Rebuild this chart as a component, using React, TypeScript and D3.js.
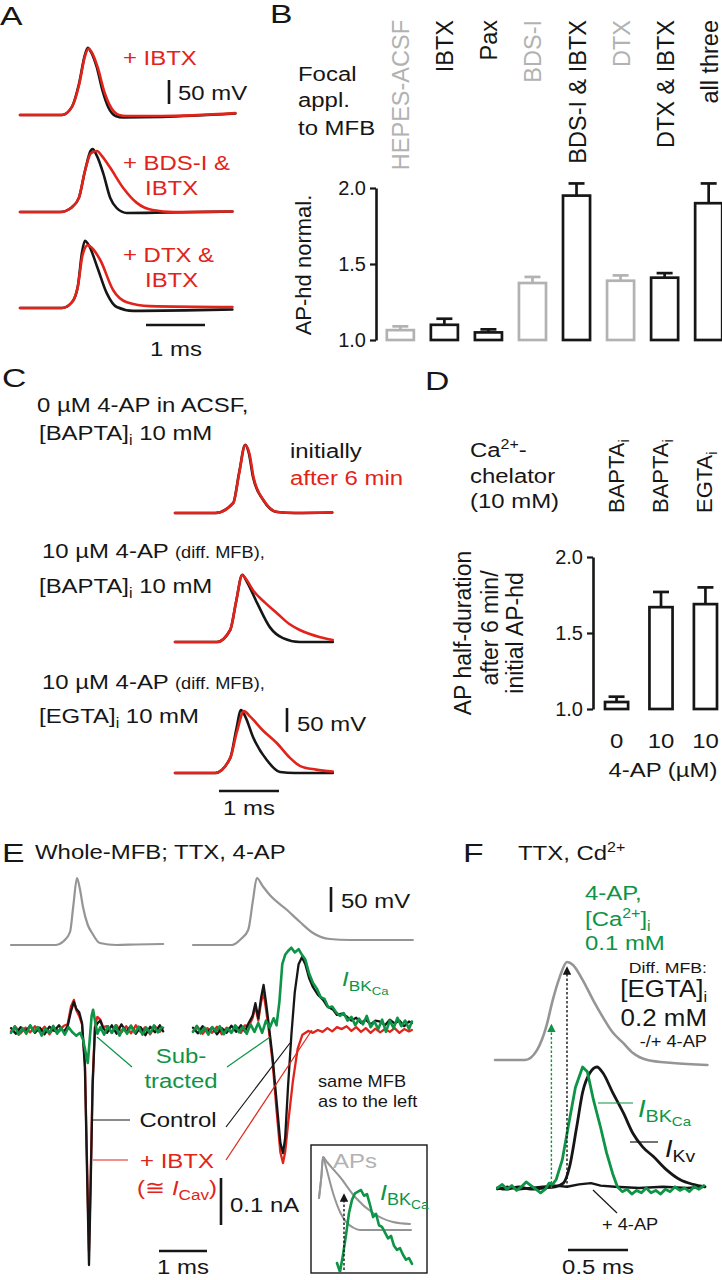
import React, { useEffect, useRef } from 'react';
import * as d3 from 'd3';

const FONT = '"Liberation Sans", Arial, Helvetica, sans-serif';
const INK = '#161616';
const RED = '#e2231a';
const GREEN = '#0d9447';
const GRAY = '#959595';
const LGRAY = '#b2b2b2';

// ---- panel B: focal application, AP half-duration normalised
const bCats = ['HEPES-ACSF', 'IBTX', 'Pax', 'BDS-I', 'BDS-I & IBTX', 'DTX', 'DTX & IBTX', 'all three'];
const bGrayCats = ['HEPES-ACSF', 'BDS-I', 'DTX'];
const bMeans = [1.065, 1.10, 1.05, 1.375, 1.95, 1.39, 1.41, 1.90];
const bErrs = [0.025, 0.04, 0.02, 0.04, 0.08, 0.035, 0.03, 0.13];
const bTicks = [1, 1.5, 2];

// ---- panel D: chelators
const dCats = ['BAPTA 0', 'BAPTA 10', 'EGTA 10'];
const dChelators = ['BAPTA', 'BAPTA', 'EGTA'];
const dConc = ['0', '10', '10'];
const dMeans = [1.046, 1.67, 1.69];
const dErrs = [0.035, 0.10, 0.11];
const dTicks = [1, 1.5, 2];

// ---- AP traces [ms, mV]
const apA1Ctrl = [[0, 0], [0.71, 0], [0.88, 17], [1.0, 65], [1.1, 125], [1.15, 140], [1.2, 132], [1.3, 100], [1.4, 50], [1.5, 15], [1.62, -2], [1.75, -5], [2.4, -4], [3.65, 3]];
const apA1Ibtx = [[0, 0], [0.71, 0], [0.88, 17], [1.0, 62], [1.1, 122], [1.16, 138], [1.22, 130], [1.32, 98], [1.43, 48], [1.55, 14], [1.68, 0], [1.8, -2], [2.4, -2], [3.65, 4]];
const apA2Ctrl = [[0, 0], [0.68, 0], [0.88, 10], [1.0, 30], [1.1, 85], [1.2, 128], [1.23, 131], [1.3, 118], [1.41, 81], [1.53, 29], [1.64, 8], [1.81, -2], [2.5, -1], [3.6, 1]];
const apA2Bds = [[0, 0], [0.68, 0], [0.88, 10], [1.0, 30], [1.1, 85], [1.2, 122], [1.3, 127], [1.4, 115], [1.53, 92], [1.75, 50], [1.98, 19], [2.25, 4], [2.6, 0], [3.6, 1]];
const apA3Ctrl = [[0, 0], [0.71, 0], [0.88, 12], [0.98, 45], [1.05, 115], [1.1, 140], [1.17, 130], [1.31, 85], [1.47, 31], [1.64, 2], [1.92, -6], [2.8, -5], [3.6, -3]];
const apA3Dtx = [[0, 0], [0.71, 0], [0.88, 12], [0.98, 45], [1.06, 110], [1.15, 131], [1.22, 125], [1.36, 100], [1.58, 37], [1.81, 12], [2.2, 4], [3.6, 2]];

const apC1Init = [[0, 0], [0.67, 0], [0.97, 21], [1.07, 85], [1.17, 142], [1.23, 125], [1.3, 75], [1.47, 27], [1.7, 2], [2.0, 0], [2.62, 1]];
const apC1After = [[0, 0], [0.67, 0], [0.97, 20], [1.07, 83], [1.17, 141], [1.24, 124], [1.31, 74], [1.48, 26], [1.71, 2], [2.0, 0], [2.62, 1]];
const apC2Init = [[0, 0], [0.7, 0], [0.92, 25], [1.02, 85], [1.12, 140], [1.2, 125], [1.37, 81], [1.58, 31], [1.8, 8], [2.08, 0], [2.63, 0]];
const apC2After = [[0, 0], [0.7, 0], [0.92, 25], [1.02, 85], [1.12, 139], [1.2, 128], [1.3, 108], [1.5, 82], [1.7, 60], [1.9, 38], [2.08, 25], [2.42, 10], [2.63, 4]];
const apC3Init = [[0, 0], [0.67, 0], [0.92, 31], [1.02, 90], [1.1, 131], [1.17, 118], [1.3, 75], [1.53, 27], [1.75, 2], [2.0, 0], [2.63, 0]];
const apC3After = [[0, 0], [0.67, 0], [0.92, 31], [1.03, 85], [1.15, 129], [1.25, 118], [1.47, 88], [1.7, 62], [1.92, 31], [2.08, 15], [2.35, 7], [2.63, 3]];

// ---- panel E
const apELeft = [[0, 0], [0.92, 0], [1.1, 8], [1.23, 26], [1.3, 80], [1.375, 134], [1.44, 110], [1.5, 76], [1.6, 40], [1.69, 24], [1.85, 4], [2.2, 0], [2.6, 1], [3.17, 2]];
const apERight = [[0, 0], [0.81, 0], [1.0, 12], [1.15, 30], [1.25, 90], [1.33, 134], [1.45, 118], [1.6, 100], [1.96, 70], [2.23, 46], [2.5, 24], [2.85, 12], [3.27, 10], [4.58, 10]];

// currents [ms, pA]
const iELeftCtrl = [[0, 4], [0.1, -8], [0.2, 6], [0.3, -3], [0.4, 9], [0.5, -6], [0.6, 5], [0.7, -9], [0.8, 7], [0.9, -2], [1.0, 10], [1.1, -4], [1.18, 8], [1.25, 40], [1.31, 60], [1.36, 45], [1.42, 38], [1.48, 15], [1.54, -80], [1.59, -330], [1.625, -500], [1.66, -330], [1.7, -120], [1.75, 5], [1.8, 14], [1.86, 20], [1.92, 4], [2.0, -6], [2.1, 10], [2.2, -8], [2.3, 12], [2.4, -4], [2.5, 9], [2.6, -8], [2.7, 6], [2.8, -11], [2.9, 7], [3.0, -5], [3.1, 10], [3.17, -3]];
const iELeftIbtx = [[0, -3], [0.1, 6], [0.2, -7], [0.3, 5], [0.4, -5], [0.5, 8], [0.6, -4], [0.7, 7], [0.8, -9], [0.9, 5], [1.0, -3], [1.1, 9], [1.18, 12], [1.25, 50], [1.31, 64], [1.36, 42], [1.42, 30], [1.48, 12], [1.54, -70], [1.59, -310], [1.625, -470], [1.66, -310], [1.7, -110], [1.75, 8], [1.8, 28], [1.86, 22], [1.92, 6], [2.0, 8], [2.1, -6], [2.2, 10], [2.3, -5], [2.4, 8], [2.5, -7], [2.6, 10], [2.7, -4], [2.8, 6], [2.9, -9], [3.0, 8], [3.1, -4], [3.17, 5]];
const iELeftSub = [[0, -6], [0.08, 8], [0.16, -10], [0.24, 4], [0.32, -8], [0.4, 10], [0.48, -4], [0.56, 6], [0.64, -12], [0.72, 3], [0.8, -6], [0.88, 9], [0.96, -8], [1.04, 5], [1.12, -10], [1.2, 6], [1.28, -5], [1.36, -12], [1.44, -6], [1.5, -20], [1.56, -50], [1.6, -70], [1.64, -20], [1.68, 30], [1.71, 43], [1.75, 20], [1.8, -8], [1.86, 6], [1.94, -10], [2.02, 8], [2.1, -6], [2.18, 10], [2.26, -12], [2.34, 4], [2.42, -8], [2.5, 9], [2.58, -6], [2.66, 7], [2.74, -10], [2.82, 5], [2.9, -7], [2.98, 10], [3.06, -5], [3.14, 6]];
const iERightCtrl = [[0, 5], [0.1, -7], [0.2, 8], [0.3, -5], [0.4, 6], [0.5, -9], [0.6, 4], [0.7, -6], [0.8, 9], [0.9, -4], [1.0, 10], [1.08, -3], [1.16, 15], [1.24, 30], [1.3, 57], [1.36, 25], [1.42, 70], [1.47, 96], [1.52, 60], [1.58, 10], [1.66, -60], [1.74, -150], [1.82, -240], [1.875, -262], [1.92, -230], [1.98, -120], [2.05, -10], [2.12, 80], [2.2, 140], [2.27, 155], [2.34, 140], [2.42, 110], [2.5, 91], [2.6, 75], [2.71, 64], [2.8, 50], [2.92, 43], [3.0, 32], [3.1, 35], [3.21, 28], [3.3, 20], [3.4, 26], [3.5, 15], [3.6, 22], [3.7, 12], [3.8, 20], [3.9, 18], [4.0, 10], [4.1, 22], [4.2, 14], [4.3, 20], [4.4, 8], [4.5, 18], [4.56, 15]];
const iERightIbtx = [[0, -3], [0.1, 6], [0.2, -8], [0.3, 4], [0.4, -6], [0.5, 7], [0.6, -9], [0.7, 5], [0.8, -4], [0.9, 8], [1.0, -6], [1.08, 10], [1.16, 8], [1.24, 25], [1.3, 50], [1.36, 20], [1.42, 60], [1.47, 80], [1.52, 45], [1.58, 0], [1.66, -70], [1.74, -170], [1.82, -260], [1.875, -283], [1.92, -260], [1.98, -200], [2.08, -110], [2.18, -40], [2.28, -10], [2.4, -2], [2.5, -6], [2.6, 0], [2.7, -4], [2.8, 4], [2.9, -3], [3.0, 6], [3.1, 2], [3.2, 8], [3.3, -2], [3.4, 6], [3.5, -4], [3.6, 4], [3.7, -6], [3.8, 3], [3.9, -5], [4.0, 2], [4.1, -4], [4.2, 4], [4.3, -6], [4.4, 2], [4.5, -3], [4.56, 0]];
const iERightSub = [[0, -4], [0.08, 9], [0.16, -7], [0.24, 5], [0.32, -10], [0.4, 6], [0.48, -3], [0.56, 8], [0.64, -9], [0.72, 4], [0.8, -6], [0.88, 10], [0.96, -5], [1.04, 7], [1.12, -8], [1.2, 12], [1.28, -4], [1.36, 15], [1.44, -6], [1.52, 20], [1.6, 5], [1.68, 25], [1.74, 10], [1.8, 60], [1.86, 140], [1.92, 160], [1.98, 168], [2.05, 175], [2.12, 165], [2.2, 172], [2.27, 160], [2.34, 150], [2.42, 120], [2.5, 100], [2.58, 88], [2.66, 70], [2.74, 66], [2.82, 48], [2.9, 50], [2.98, 38], [3.06, 30], [3.14, 36], [3.22, 20], [3.3, 28], [3.38, 10], [3.46, 24], [3.54, 12], [3.62, 30], [3.7, 6], [3.78, 18], [3.86, 2], [3.94, 22], [4.02, -4], [4.1, 20], [4.18, 4], [4.26, 26], [4.34, 8], [4.42, 20], [4.5, 2], [4.56, 18]];

// inset
const apInFast = [[0.02, 64], [0.07, 110], [0.1, 146], [0.16, 126], [0.3, 74], [0.45, 34], [0.58, 14], [0.7, 5], [0.84, 0], [1.86, 0]];
const apInSlow = [[0.02, 64], [0.07, 110], [0.1, 146], [0.18, 136], [0.3, 122], [0.44, 106], [0.74, 66], [1.1, 34], [1.5, 16], [1.84, 12]];
const iInBk = [[0.38, 11], [0.44, 0], [0.5, 21], [0.56, 45], [0.62, 72], [0.68, 88], [0.74, 96], [0.8, 98], [0.86, 100], [0.92, 93], [0.98, 95], [1.04, 82], [1.1, 67], [1.16, 71], [1.22, 57], [1.28, 55], [1.34, 48], [1.4, 41], [1.46, 44], [1.52, 32], [1.58, 27], [1.64, 29], [1.7, 21], [1.76, 15], [1.82, 17], [1.88, 10]];
const inArrow = { t: 0.52, from: 0, to: 74 };

// ---- panel F (normalised units)
const apF = [[0, 1], [0.25, 1], [0.35, 11], [0.43, 36], [0.48, 61], [0.54, 85], [0.6, 100], [0.65, 97], [0.73, 82], [0.82, 61], [0.9, 44], [0.98, 29], [1.07, 18], [1.15, 8], [1.27, 1], [1.48, -2], [1.77, -4]];
const iFBk = [[0.02, 0], [0.06, 3], [0.1, -1], [0.14, 2], [0.18, -2], [0.22, 1], [0.26, 5], [0.3, 2], [0.34, -1], [0.38, -4], [0.42, -1], [0.45, 4], [0.48, 3], [0.51, 7], [0.56, 23], [0.62, 56], [0.67, 83], [0.73, 100], [0.77, 96], [0.82, 73], [0.88, 50], [0.93, 29], [0.98, 12], [1.02, 1], [1.06, -3], [1.1, -1], [1.14, -5], [1.18, -2], [1.22, -4], [1.26, 0], [1.3, -4], [1.34, -2], [1.38, -5], [1.42, -1], [1.46, -3], [1.5, 1], [1.54, -2], [1.58, 0], [1.62, -3], [1.66, 1], [1.7, -1], [1.74, 2]];
const iFKv = [[0.02, 0], [0.1, -1], [0.2, 1], [0.3, -1], [0.4, 0], [0.5, 1], [0.57, 4], [0.62, 17], [0.68, 50], [0.73, 79], [0.79, 95], [0.85, 100], [0.9, 95], [0.98, 79], [1.07, 62], [1.15, 45], [1.23, 34], [1.32, 26], [1.43, 15], [1.54, 7], [1.65, 3], [1.75, 1]];
const iF4ap = [[0.02, -1], [0.1, 1], [0.2, -1], [0.3, 0], [0.4, 1], [0.5, 2], [0.6, 1], [0.7, 3], [0.8, 4], [0.88, 2], [1.0, 1], [1.2, 0], [1.4, 1], [1.6, 0], [1.75, 1]];
const fArrows = [{ t: 0.47, to: 39, color: GREEN }, { t: 0.6, to: 97, color: INK }];

function traceScales(x0: number, msPx: number, base: number, unitPx: number, tMax = 5) {
  return {
    x: d3.scaleLinear().domain([0, tMax]).range([x0, x0 + msPx * tMax]),
    y: d3.scaleLinear().domain([0, 100]).range([base, base - 100 * unitPx]),
  };
}

const scA = [traceScales(20, 59, 115, 0.48), traceScales(20, 59, 212, 0.48), traceScales(20, 59, 308, 0.48)];
const scC = [traceScales(175, 60, 513, 0.48), traceScales(175, 60, 642, 0.48), traceScales(175, 60, 773, 0.48)];
const scEvL = traceScales(11, 48, 945, 0.5);
const scEvR = traceScales(193, 48, 945, 0.5);
const scEiL = traceScales(11, 48, 1030, 0.47);
const scEiR = traceScales(193, 48, 1030, 0.47);
const scInV = traceScales(318, 50, 1230, 0.5);
const scInI = traceScales(318, 50, 1272, 0.82);
const scFv = traceScales(495, 120, 1061, 0.99);
const scFi = traceScales(495, 120, 1188, 1.21);

const yB = d3.scaleLinear().domain([1, 2]).range([340, 188]);
const xB = d3.scaleBand().domain(bCats).range([378, 731]).paddingInner(0.386).paddingOuter(0.2);
const yD = d3.scaleLinear().domain([1, 2]).range([709, 557]);
const xD = d3.scaleBand().domain(dCats).range([593, 729]).paddingInner(0.48).paddingOuter(0.27);

function Trace({ data, sc, color, w = 2.6, smooth = true }: any) {
  const line = d3.line()
    .x((d: any) => sc.x(d[0]))
    .y((d: any) => sc.y(d[1]))
    .curve(smooth ? d3.curveMonotoneX : d3.curveLinear);
  return <path d={line(data) || ''} fill="none" stroke={color} strokeWidth={w} strokeLinejoin="round" strokeLinecap="round" />;
}

function T({ x, y, s = 21, sx = 1.14, fill = INK, anchor = 'start', rot = false, italic = false, children }: any) {
  const transform = rot ? `translate(${x},${y}) rotate(-90)` : `translate(${x},${y}) scale(${sx},1)`;
  return (
    <text transform={transform} fontSize={s} fill={fill} textAnchor={anchor} fontFamily={FONT} fontStyle={italic ? 'italic' : 'normal'}>
      {children}
    </text>
  );
}

function Ibk({ x, y, s = 21 }: any) {
  return (
    <T x={x} y={y} s={s} fill={GREEN}>
      <tspan fontStyle="italic">I</tspan>
      <tspan dy={5} fontSize={s * 0.72}>BK</tspan>
      <tspan dy={4} fontSize={s * 0.55}>Ca</tspan>
    </T>
  );
}

function Bars({ cats, means, errs, x, y, grayCats = [] }: any) {
  const bw = x.bandwidth();
  return (
    <g>
      {cats.map((c: string, i: number) => {
        const col = grayCats.includes(c) ? LGRAY : INK;
        const cx = x(c) + bw / 2;
        return (
          <g key={c} stroke={col} strokeWidth={2.7} fill="#fff">
            <line x1={cx} x2={cx} y1={y(means[i])} y2={y(means[i] + errs[i])} />
            <line x1={cx - 8} x2={cx + 8} y1={y(means[i] + errs[i])} y2={y(means[i] + errs[i])} />
            <rect x={x(c)} y={y(means[i])} width={bw} height={y(1) - y(means[i])} />
          </g>
        );
      })}
    </g>
  );
}

function Leader({ pts, color, w = 1.2 }: any) {
  return <path d={d3.line()(pts) || ''} fill="none" stroke={color} strokeWidth={w} />;
}

export default function App() {
  const axB = useRef<SVGGElement>(null);
  const axD = useRef<SVGGElement>(null);

  useEffect(() => {
    const style = (g: any) => {
      g.select('.domain').attr('stroke', INK).attr('stroke-width', 2.6);
      g.selectAll('.tick line').attr('stroke', INK).attr('stroke-width', 2.2);
      g.selectAll('.tick text').attr('fill', INK).attr('font-size', 20).attr('font-family', FONT);
    };
    const gb = d3.select(axB.current);
    gb.call(d3.axisLeft(yB).tickValues(bTicks).tickFormat(d3.format('.1f')).tickSize(6).tickSizeOuter(0).tickPadding(4) as any);
    style(gb);
    const gd = d3.select(axD.current);
    gd.call(d3.axisLeft(yD).tickValues(dTicks).tickFormat(d3.format('.1f')).tickSize(6).tickSizeOuter(0).tickPadding(4) as any);
    style(gd);
  }, []);

  const dash = '2.5,2';

  return (
    <svg width={722} height={1280} style={{ position: 'absolute', left: 0, top: 0, background: '#fff' }} fontFamily={FONT}>
      <defs>
        <marker id="arrK" viewBox="0 0 10 10" refX="8" refY="5" markerWidth="6" markerHeight="6" orient="auto">
          <path d="M0,0L10,5L0,10z" fill={INK} />
        </marker>
        <marker id="arrG" viewBox="0 0 10 10" refX="8" refY="5" markerWidth="6" markerHeight="6" orient="auto">
          <path d="M0,0L10,5L0,10z" fill={GREEN} />
        </marker>
        <clipPath id="inset"><rect x={312} y={1146} width={114} height={126} /></clipPath>
      </defs>

      {/* ---------------- A ---------------- */}
      <T x={0} y={25} s={25} sx={1.35}>A</T>
      <Trace data={apA1Ctrl} sc={scA[0]} color={INK} />
      <Trace data={apA1Ibtx} sc={scA[0]} color={RED} />
      <Trace data={apA2Ctrl} sc={scA[1]} color={INK} />
      <Trace data={apA2Bds} sc={scA[1]} color={RED} />
      <Trace data={apA3Ctrl} sc={scA[2]} color={INK} />
      <Trace data={apA3Dtx} sc={scA[2]} color={RED} />
      <T x={123} y={65} fill={RED}>+ IBTX</T>
      <T x={123} y={170} fill={RED}>+ BDS-I &amp;</T>
      <T x={145} y={195} fill={RED}>IBTX</T>
      <T x={123} y={262} fill={RED}>+ DTX &amp;</T>
      <T x={145} y={287} fill={RED}>IBTX</T>
      <line x1={169} x2={169} y1={80} y2={80 + scA[0].y(0) - scA[0].y(50)} stroke={INK} strokeWidth={2.6} />
      <T x={178} y={100}>50 mV</T>
      <line x1={146} x2={146 + scA[0].x(1) - scA[0].x(0)} y1={325} y2={325} stroke={INK} strokeWidth={2.6} />
      <T x={176} y={356} anchor="middle">1 ms</T>

      {/* ---------------- B ---------------- */}
      <T x={270} y={23} s={25} sx={1.35}>B</T>
      <T x={298} y={81}>Focal</T>
      <T x={298} y={107}>appl.</T>
      <T x={298} y={135}>to MFB</T>
      {bCats.map((c) => (
        <T key={c} rot x={xB(c)! + xB.bandwidth() / 2 + 9} y={20} s={23.5} anchor="end" fill={bGrayCats.includes(c) ? LGRAY : INK}>{c}</T>
      ))}
      <T rot x={311} y={265} s={22} anchor="middle">AP-hd normal.</T>
      <g ref={axB} transform="translate(376,0)" />
      <Bars cats={bCats} means={bMeans} errs={bErrs} x={xB} y={yB} grayCats={bGrayCats} />

      {/* ---------------- C ---------------- */}
      <T x={2} y={387} s={25} sx={1.35}>C</T>
      <T x={37} y={412}>0 µM 4-AP in ACSF,</T>
      <T x={39} y={440}>[BAPTA]<tspan dy={5} fontSize={14}>i</tspan><tspan dy={-5}> 10 mM</tspan></T>
      <T x={290} y={458}>initially</T>
      <T x={290} y={485} fill={RED}>after 6 min</T>
      <T x={42} y={558}>10 µM 4-AP <tspan fontSize={16}>(diff. MFB),</tspan></T>
      <T x={39} y={593}>[BAPTA]<tspan dy={5} fontSize={14}>i</tspan><tspan dy={-5}> 10 mM</tspan></T>
      <T x={42} y={689}>10 µM 4-AP <tspan fontSize={16}>(diff. MFB),</tspan></T>
      <T x={39} y={723}>[EGTA]<tspan dy={5} fontSize={14}>i</tspan><tspan dy={-5}> 10 mM</tspan></T>
      <Trace data={apC1Init} sc={scC[0]} color={INK} />
      <Trace data={apC1After} sc={scC[0]} color={RED} />
      <Trace data={apC2Init} sc={scC[1]} color={INK} />
      <Trace data={apC2After} sc={scC[1]} color={RED} />
      <Trace data={apC3Init} sc={scC[2]} color={INK} />
      <Trace data={apC3After} sc={scC[2]} color={RED} />
      <line x1={287} x2={287} y1={708} y2={708 + scC[2].y(0) - scC[2].y(50)} stroke={INK} strokeWidth={2.6} />
      <T x={297} y={731}>50 mV</T>
      <line x1={219} x2={219 + scC[2].x(1) - scC[2].x(0)} y1={791} y2={791} stroke={INK} strokeWidth={2.6} />
      <T x={249} y={815} anchor="middle">1 ms</T>

      {/* ---------------- D ---------------- */}
      <T x={425} y={390} s={25} sx={1.35}>D</T>
      <T x={470} y={457}>Ca<tspan dy={-8} fontSize={14}>2+</tspan><tspan dy={8}>-</tspan></T>
      <T x={470} y={483}>chelator</T>
      <T x={470} y={508}>(10 mM)</T>
      {dCats.map((c, i) => (
        <T key={c} rot x={xD(c)! + xD.bandwidth() / 2 + 7} y={513} s={22}>
          {dChelators[i]}<tspan dy={5} fontSize={14}>i</tspan>
        </T>
      ))}
      <T rot x={471} y={633} s={23} anchor="middle">AP half-duration</T>
      <T rot x={498} y={628} s={23} anchor="middle">after 6 min/</T>
      <T rot x={523} y={633} s={23} anchor="middle">initial AP-hd</T>
      <g ref={axD} transform="translate(593,0)" />
      <Bars cats={dCats} means={dMeans} errs={dErrs} x={xD} y={yD} />
      {dCats.map((c, i) => (
        <T key={c} x={xD(c)! + xD.bandwidth() / 2} y={748} anchor="middle">{dConc[i]}</T>
      ))}
      <T x={663} y={777} anchor="middle">4-AP (µM)</T>

      {/* ---------------- E ---------------- */}
      <T x={2} y={862} s={25} sx={1.35}>E</T>
      <T x={35} y={859}>Whole-MFB; TTX, 4-AP</T>
      <Trace data={apELeft} sc={scEvL} color={GRAY} w={2.2} />
      <Trace data={apERight} sc={scEvR} color={GRAY} w={2.2} />
      <line x1={331} x2={331} y1={887} y2={887 + scEvR.y(0) - scEvR.y(50)} stroke={INK} strokeWidth={2.6} />
      <T x={341} y={908}>50 mV</T>

      <Trace data={iELeftIbtx} sc={scEiL} color={RED} w={2.3} smooth={false} />
      <Trace data={iELeftCtrl} sc={scEiL} color={INK} w={2.3} smooth={false} />
      <Trace data={iELeftSub} sc={scEiL} color={GREEN} w={2.6} smooth={false} />
      <Trace data={iERightIbtx} sc={scEiR} color={RED} w={2.3} smooth={false} />
      <Trace data={iERightCtrl} sc={scEiR} color={INK} w={2.3} smooth={false} />
      <Trace data={iERightSub} sc={scEiR} color={GREEN} w={2.6} smooth={false} />

      <Ibk x={342} y={986} s={21} />
      <T x={181} y={1063} anchor="middle" fill={GREEN}>Sub-</T>
      <T x={181} y={1088} anchor="middle" fill={GREEN}>tracted</T>
      <T x={178} y={1127} anchor="middle">Control</T>
      <T x={177} y={1168} anchor="middle" fill={RED}>+ IBTX</T>
      <T x={177} y={1195} anchor="middle" fill={RED}>(≅ <tspan fontStyle="italic">I</tspan><tspan dy={5} fontSize={15}>Cav</tspan><tspan dy={-5}>)</tspan></T>
      <Leader pts={[[97, 1037], [132, 1067]]} color={GREEN} />
      <Leader pts={[[227, 1067], [270, 1037]]} color={GREEN} />
      <Leader pts={[[93, 1120], [130, 1120]]} color={INK} />
      <Leader pts={[[226, 1127], [290, 1043]]} color={INK} />
      <Leader pts={[[93, 1160], [128, 1160]]} color={RED} />
      <Leader pts={[[226, 1160], [312, 1030]]} color={RED} />
      <T x={318} y={1087} s={16}>same MFB</T>
      <T x={318} y={1107} s={16}>as to the left</T>
      <line x1={221} x2={221} y1={1178} y2={1178 + scEiL.y(0) - scEiL.y(100)} stroke={INK} strokeWidth={2.6} />
      <T x={230} y={1212}>0.1 nA</T>
      <line x1={159} x2={159 + scEiL.x(1) - scEiL.x(0)} y1={1251} y2={1251} stroke={INK} strokeWidth={2.6} />
      <T x={183} y={1274} anchor="middle">1 ms</T>

      {/* inset */}
      <rect x={311} y={1145} width={116} height={128} fill="#fff" stroke={INK} strokeWidth={1.4} />
      <g clipPath="url(#inset)">
        <Trace data={apInFast} sc={scInV} color={GRAY} w={2} />
        <Trace data={apInSlow} sc={scInV} color={GRAY} w={2} />
        <Trace data={iInBk} sc={scInI} color={GREEN} w={2.6} smooth={false} />
        <line x1={scInV.x(inArrow.t)} x2={scInV.x(inArrow.t)} y1={scInI.y(inArrow.from) - 2} y2={scInV.y(inArrow.to) + 2}
          stroke={INK} strokeWidth={1.4} strokeDasharray={dash} markerEnd="url(#arrK)" />
      </g>
      <T x={333} y={1168} fill={LGRAY}>APs</T>
      <Ibk x={380} y={1200} s={22} />

      {/* ---------------- F ---------------- */}
      <T x={463} y={862} s={25} sx={1.35}>F</T>
      <T x={518} y={860}>TTX, Cd<tspan dy={-8} fontSize={14}>2+</tspan></T>
      <T x={585} y={900} fill={GREEN}>4-AP,</T>
      <T x={585} y={926} fill={GREEN}>[Ca<tspan dy={-8} fontSize={14}>2+</tspan><tspan dy={8}>]</tspan><tspan dy={5} fontSize={14}>i</tspan></T>
      <T x={585} y={950} fill={GREEN}>0.1 mM</T>
      <T x={707} y={973} s={15.5} anchor="end">Diff. MFB:</T>
      <T x={707} y={997} s={24} sx={1.08} anchor="end">[EGTA]<tspan dy={5} fontSize={15}>i</tspan></T>
      <T x={707} y={1026} s={24} sx={1.08} anchor="end">0.2 mM</T>
      <T x={707} y={1047} s={16} anchor="end">-/+ 4-AP</T>

      <Trace data={apF} sc={scFv} color={GRAY} w={2.6} />
      <Trace data={iF4ap} sc={scFi} color={INK} w={2.4} smooth={false} />
      <Trace data={iFKv} sc={scFi} color={INK} w={2.8} />
      <Trace data={iFBk} sc={scFi} color={GREEN} w={2.8} smooth={false} />
      {fArrows.map((a, i) => (
        <line key={i} x1={scFv.x(a.t)} x2={scFv.x(a.t)} y1={scFi.y(0)} y2={scFv.y(a.to) + 3}
          stroke={a.color} strokeWidth={1.4} strokeDasharray={dash} markerEnd={a.color === GREEN ? 'url(#arrG)' : 'url(#arrK)'} />
      ))}
      <Leader pts={[[598, 1103], [633, 1103]]} color={GREEN} />
      <Ibk x={638} y={1117} s={24} />
      <Leader pts={[[630, 1142], [658, 1142]]} color={INK} />
      <T x={665} y={1157} s={24}><tspan fontStyle="italic">I</tspan><tspan dy={5} fontSize={17}>Kv</tspan></T>
      <Leader pts={[[593, 1190], [617, 1213]]} color={INK} />
      <T x={602} y={1230} s={16}>+ 4-AP</T>
      <line x1={568} x2={568 + scFi.x(0.5) - scFi.x(0)} y1={1250} y2={1250} stroke={INK} strokeWidth={2.6} />
      <T x={598} y={1274} anchor="middle">0.5 ms</T>
    </svg>
  );
}
